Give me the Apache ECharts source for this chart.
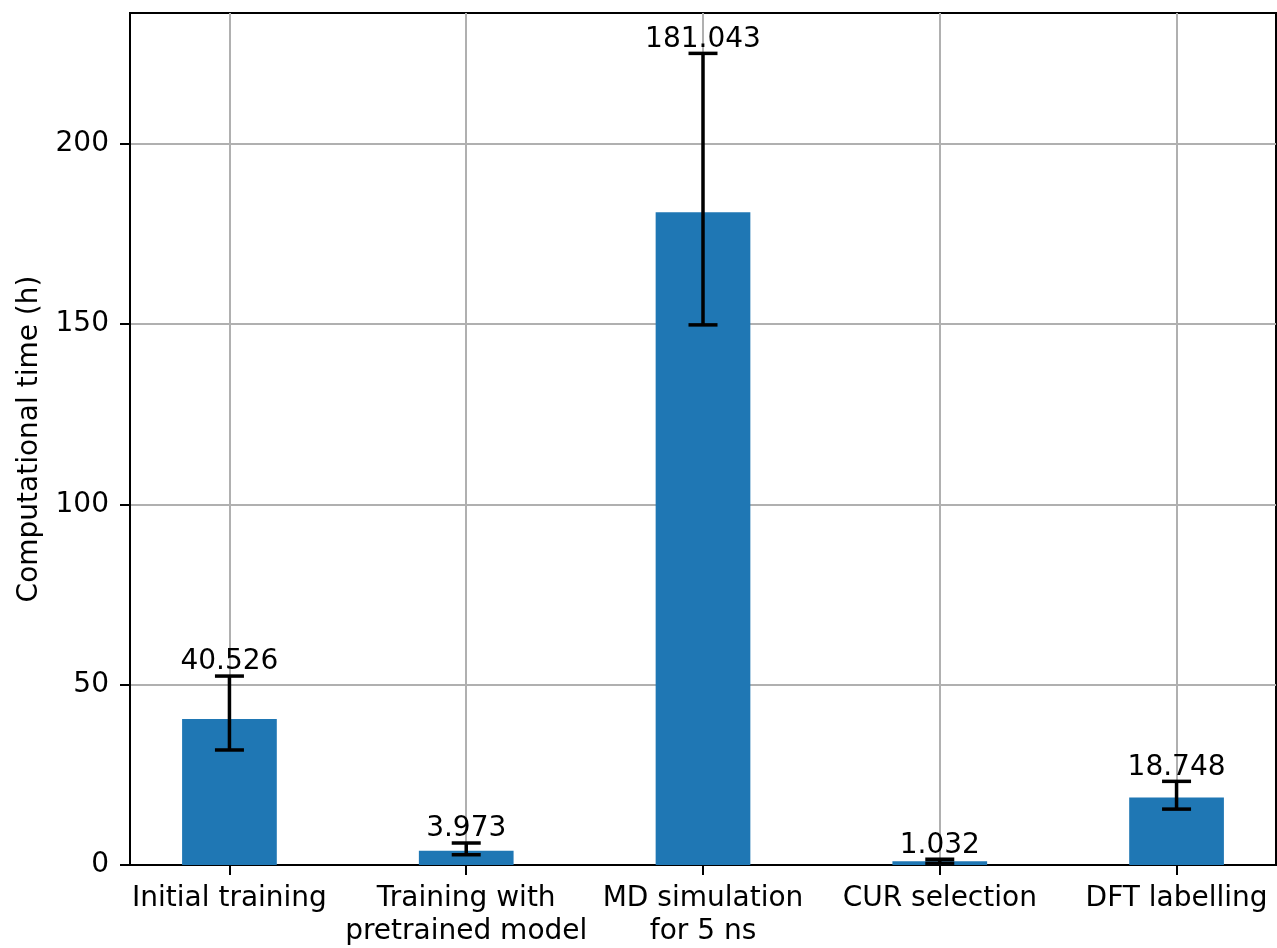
<!DOCTYPE html>
<html>
<head>
<meta charset="utf-8">
<title>Computational time per workflow step</title>
<script src="https://cdn.jsdelivr.net/npm/echarts@6/dist/echarts.min.js"></script>
<style>
  html, body { margin: 0; padding: 0; background: #fff; }
  #chart { width: 1277px; height: 948px; }
</style>
</head>
<body>
<div id="chart"></div>
<script>
// Workflow steps and their mean computational time (hours) with error ranges
const categories = ['Initial training', 'Training with\npretrained model', 'MD simulation\nfor 5 ns', 'CUR selection', 'DFT labelling'];
const meanHours = [40.526, 3.973, 181.043, 1.032, 18.748];
const errLow = [31.9, 2.85, 149.8, 0.5, 15.5];
const errHigh = [52.4, 6.1, 225.1, 1.6, 23.2];
const yTicks = [0, 50, 100, 150, 200];
const xPositions = [0, 1, 2, 3, 4];

const FONT = '"DejaVu Sans"';
const FS = 28;
const BAR_HALF = 0.2;
const CAP_PX = 14.5;

const chart = echarts.init(document.getElementById('chart'), null, { renderer: 'canvas' });

const barData = meanHours.map((v, i) => [xPositions[i], v]);
const errData = meanHours.map((v, i) => [xPositions[i], errLow[i], errHigh[i], v]);

const option = {
  animation: false,
  backgroundColor: '#ffffff',
  grid: {
    left: 130, right: 1, top: 13, bottom: 82,
    show: true, borderColor: '#000', borderWidth: 2, backgroundColor: 'transparent'
  },
  xAxis: {
    type: 'value',
    min: -0.42, max: 4.42,
    axisLine: { show: true, onZero: false, lineStyle: { color: '#000', width: 2 } },
    axisTick: { show: true, customValues: xPositions, length: 10, lineStyle: { color: '#000', width: 2 } },
    axisLabel: {
      customValues: xPositions,
      formatter: v => categories[Math.round(v)] || '',
      color: '#000', fontFamily: FONT, fontSize: FS, lineHeight: 33, margin: 17
    },
    splitLine: { show: true, lineStyle: { color: '#b0b0b0', width: 2 } }
  },
  yAxis: {
    type: 'value',
    min: 0, max: 236.3,
    name: 'Computational time (h)',
    nameLocation: 'middle',
    nameRotate: 90,
    nameGap: 86,
    nameTextStyle: { color: '#000', fontFamily: FONT, fontSize: FS },
    axisLine: { show: true, onZero: false, lineStyle: { color: '#000', width: 2 } },
    axisTick: { show: true, customValues: yTicks, length: 10, lineStyle: { color: '#000', width: 2 } },
    axisLabel: {
      customValues: yTicks,
      color: '#000', fontFamily: FONT, fontSize: FS, margin: 21
    },
    splitLine: { show: true, lineStyle: { color: '#b0b0b0', width: 2 } }
  },
  series: [
    {
      // bars
      type: 'custom',
      data: barData,
      z: 3,
      renderItem: (params, api) => {
        const x = api.value(0), v = api.value(1);
        const p0 = api.coord([x - BAR_HALF, v]);
        const p1 = api.coord([x + BAR_HALF, 0]);
        return {
          type: 'rect',
          shape: { x: p0[0], y: p0[1], width: p1[0] - p0[0], height: p1[1] - p0[1] },
          style: { fill: '#1f77b4' }
        };
      }
    },
    {
      // error bars with caps and value labels
      type: 'custom',
      data: errData,
      z: 4,
      renderItem: (params, api) => {
        const x = api.value(0);
        const lo = api.coord([x, api.value(1)]);
        const hi = api.coord([x, api.value(2)]);
        const line = { stroke: '#000', lineWidth: 3.5 };
        return {
          type: 'group',
          children: [
            { type: 'line', shape: { x1: lo[0], y1: lo[1], x2: hi[0], y2: hi[1] }, style: line },
            { type: 'line', shape: { x1: lo[0] - CAP_PX, y1: lo[1], x2: lo[0] + CAP_PX, y2: lo[1] }, style: line },
            { type: 'line', shape: { x1: hi[0] - CAP_PX, y1: hi[1], x2: hi[0] + CAP_PX, y2: hi[1] }, style: line },
            {
              type: 'text',
              style: {
                x: hi[0], y: hi[1],
                text: meanHours[params.dataIndex].toFixed(3),
                align: 'center', verticalAlign: 'bottom',
                fontFamily: FONT, fontSize: FS, fill: '#000'
              }
            }
          ]
        };
      }
    }
  ]
};

chart.setOption(option);
</script>
</body>
</html>
